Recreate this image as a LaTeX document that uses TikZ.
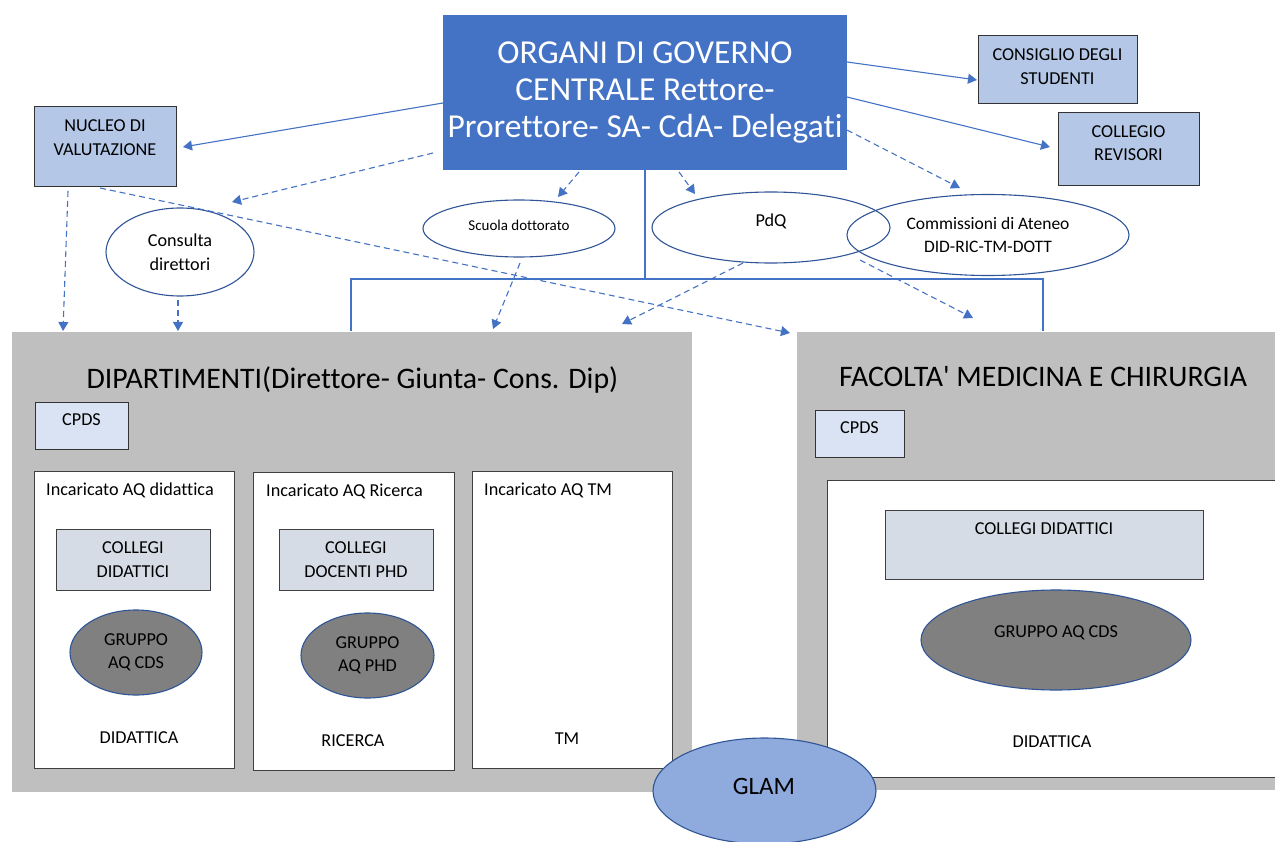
\documentclass[tikz,border=0pt]{standalone}
\usepackage{fontspec}
\setmainfont{Carlito}[Ligatures={TeXOff,NoCommon}]
\usetikzlibrary{arrows.meta,shapes.geometric}
\definecolor{mainblue}{HTML}{4472C4}
\definecolor{boxblue}{HTML}{B4C7E7}
\definecolor{cpdsfill}{HTML}{DAE3F3}
\definecolor{collfill}{HTML}{D6DCE5}
\definecolor{panelgray}{HTML}{BFBFBF}
\definecolor{darkblue}{HTML}{2F5597}
\definecolor{glamfill}{HTML}{8FAADC}
\definecolor{grpfill}{HTML}{808080}
\tikzset{
  arr/.style={draw=mainblue, line width=1.1pt, -{Triangle[width=10pt,length=9pt]}},
  darr/.style={arr, dash pattern=on 6pt off 4pt},
  bracketline/.style={draw=mainblue, line width=1.3pt},
  bluebox/.style={draw=black!80, line width=1pt, fill=boxblue, inner sep=0pt},
  cpdsbox/.style={draw=black!80, line width=1pt, fill=cpdsfill, inner sep=0pt},
  collbox/.style={draw=black!75, line width=1pt, fill=collfill, inner sep=0pt, align=center, font=\smalltxt},
  whitebox/.style={draw=black!75, line width=1pt, fill=white, inner sep=0pt},
  panel/.style={fill=panelgray, inner sep=0pt},
  oval/.style={ellipse, draw=darkblue, line width=1.1pt, inner sep=0pt, align=center, font=\smalltxt},
  grp/.style={ellipse, draw=darkblue, line width=1.1pt, fill=grpfill, inner sep=0pt, align=center, font=\smalltxt},
  txt/.style={inner sep=0pt, align=center, font=\smalltxt},
}
\newcommand{\smalltxt}{\fontsize{18.2}{23.5}\selectfont}
\begin{document}
\begin{tikzpicture}[x=1pt,y=-1pt]
\useasboundingbox (0,0) rectangle (1275,842);

% panels
\node[panel, minimum width=680pt, minimum height=460pt] (dip) at (352,562) {};
\node[panel, minimum width=480pt, minimum height=458pt] (fac) at (1037,561) {};
\node[inner sep=0pt, font=\fontsize{29.8}{34}\selectfont] (diptitle) at (352.5,380) {DIPARTIMENTI(Direttore- Giunta- Cons. Dip)};
\node[inner sep=0pt, font=\fontsize{29.8}{34}\selectfont] (factitle) at (1043,377) {FACOLTA' MEDICINA E CHIRURGIA};

% CPDS
\node[cpdsbox, minimum width=93pt, minimum height=47pt] (cpds1) at (81.5,425.5) {};
\node[txt] (cpds1t) at (81.5,420) {CPDS};
\node[cpdsbox, minimum width=89pt, minimum height=47pt] (cpds2) at (859.5,433.5) {};
\node[txt] (cpds2t) at (859.5,428) {CPDS};

% white boxes
\node[whitebox, minimum width=200pt, minimum height=297pt] (w1) at (134,619.5) {};
\node[whitebox, minimum width=201pt, minimum height=298pt] (w2) at (354,621) {};
\node[whitebox, minimum width=200pt, minimum height=297pt] (w3) at (572.5,619.5) {};
\node[whitebox, minimum width=452pt, minimum height=297pt] (w4) at (1053.5,628.5) {};
\node[txt, anchor=west] (w1t) at (46,490) {Incaricato AQ didattica};
\node[txt, anchor=west] (w2t) at (266,491) {Incaricato AQ Ricerca};
\node[txt, anchor=west] (w3t) at (484,490) {Incaricato AQ TM};
\node[txt] (w1b) at (139,738) {DIDATTICA};
\node[txt] (w2b) at (353,741) {RICERCA};
\node[txt] (w3b) at (567,739) {TM};
\node[txt] (w4b) at (1052,742) {DIDATTICA};

% collegi
\node[collbox, minimum width=154pt, minimum height=61pt] (coll1) at (133,559.5) {COLLEGI\\DIDATTICI};
\node[collbox, minimum width=154pt, minimum height=61pt] (coll2) at (356,559.5) {COLLEGI\\DOCENTI PHD};
\node[collbox, minimum width=318pt, minimum height=69pt] (coll3) at (1044,544.5) {};
\node[txt] (coll3t) at (1044,529) {COLLEGI DIDATTICI};

% gruppi
\node[grp, minimum width=132pt, minimum height=85pt] (g1) at (136,652.5) {GRUPPO\\AQ CDS};
\node[grp, minimum width=133pt, minimum height=85pt] (g2) at (367.5,655.5) {GRUPPO\\AQ PHD};
\node[grp, minimum width=270pt, minimum height=100pt] (g3) at (1056,640) {};
\node[txt] (g3t) at (1056,633) {GRUPPO AQ CDS};

% top
\node[fill=mainblue, inner sep=0pt, minimum width=404pt, minimum height=155pt, text=white, align=center,
      font=\fontsize{33.5}{37}\selectfont] (main) at (645,92.5)
      {ORGANI DI GOVERNO\\CENTRALE Rettore-\\Prorettore- SA- CdA- Delegati};
\node[bluebox, minimum width=159pt, minimum height=68pt] (cons) at (1057.5,70) {};
\node[txt] (const) at (1057.5,66.5) {CONSIGLIO DEGLI\\STUDENTI};
\node[bluebox, minimum width=141pt, minimum height=73pt] (rev) at (1128.5,149.5) {};
\node[txt] (revt) at (1128.5,143) {COLLEGIO\\REVISORI};
\node[bluebox, minimum width=142pt, minimum height=80pt] (nucleo) at (105,147) {};
\node[txt] (nucleot) at (105,137.5) {NUCLEO DI\\VALUTAZIONE};

\node[oval, minimum width=148pt, minimum height=88pt] (consulta) at (180,252) {Consulta\\direttori};
\node[oval, minimum width=192pt, minimum height=57pt] (scuola) at (519,228.5) {};
\node[txt, font=\fontsize{15}{17}\selectfont] (scuolat) at (519,225) {Scuola dottorato};
\node[oval, minimum width=238pt, minimum height=71pt] (pdq) at (771,227.5) {};
\node[txt] (pdqt) at (771,221) {PdQ};
\node[oval, minimum width=282pt, minimum height=81pt, font=\fontsize{17.5}{23.5}\selectfont] (comm) at (988,235) {Commissioni di Ateneo\\DID-RIC-TM-DOTT};

% bracket
\coordinate (bmid) at (645,279);
\coordinate (bLt) at (351,279);
\coordinate (bLb) at (351,331);
\coordinate (bRt) at (1043,279);
\coordinate (bRb) at (1043,331);
\draw[bracketline] (main.south) -- (bmid);
\draw[bracketline] (bLb) -- (bLt) -- (bRt) -- (bRb);

% arrow end points
\coordinate (s1) at (443,103);  \coordinate (e1) at (183,147);
\coordinate (s2) at (847,62);   \coordinate (e2) at (977,80);
\coordinate (s3) at (847,97);   \coordinate (e3) at (1050,147);
\coordinate (s4) at (433,153);  \coordinate (e4) at (232,202);
\coordinate (s5) at (579,172);  \coordinate (e5) at (558,197);
\coordinate (s6) at (679,172);  \coordinate (e6) at (695,194);
\coordinate (s7) at (847,130);  \coordinate (e7) at (960,188);
\coordinate (s8) at (68,191);   \coordinate (e8) at (63,331);
\coordinate (s9) at (100,188);  \coordinate (e9) at (790,333);
\coordinate (s10) at (178,300); \coordinate (e10) at (178,331);
\coordinate (s11) at (520,263); \coordinate (e11) at (493,329);
\coordinate (s12) at (743,263); \coordinate (e12) at (622,324);
\coordinate (s13) at (860,260); \coordinate (e13) at (973,318);

\draw[arr] (s1) -- (e1);
\draw[arr] (s2) -- (e2);
\draw[arr] (s3) -- (e3);
\draw[darr] (s4) -- (e4);
\draw[darr] (s5) -- (e5);
\draw[darr] (s6) -- (e6);
\draw[darr] (s7) -- (e7);
\draw[darr] (s8) -- (e8);
\draw[darr] (s9) -- (e9);
\draw[darr] (s10) -- (e10);
\draw[darr] (s11) -- (e11);
\draw[darr] (s12) -- (e12);
\draw[darr] (s13) -- (e13);

% GLAM
\node[ellipse, draw=darkblue, line width=1.1pt, fill=glamfill, inner sep=0pt, minimum width=223pt, minimum height=106pt] (glam) at (764.5,791) {};
\node[inner sep=0pt, font=\fontsize{25}{30}\selectfont] (glamt) at (764,786) {GLAM};
\end{tikzpicture}
\end{document}
